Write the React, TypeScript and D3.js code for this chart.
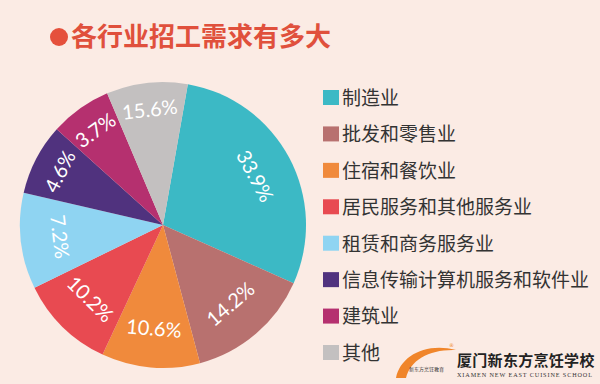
import React from 'react';
import * as d3 from 'd3';

// industries, in clockwise order from the top
const categories = [
  '制造业',
  '批发和零售业',
  '住宿和餐饮业',
  '居民服务和其他服务业',
  '租赁和商务服务业',
  '信息传输计算机服务和软件业',
  '建筑业',
  '其他',
];
// printed share of each industry (%)
const shares = [33.9, 14.2, 10.6, 10.2, 7.2, 4.6, 3.7, 15.6];
// slice size as drawn in the picture (degrees); the original graphic is not to scale
const sliceDegrees = [104, 51, 40, 39, 39, 29, 25, 33];
const colors = ['#3cb9c5', '#b8716f', '#f08a3c', '#e84a51', '#8fd4f2', '#50327e', '#b5306f', '#c3c0c0'];

const title = '各行业招工需求有多大';
const schoolName = '厦门新东方烹饪学校';
const schoolNameEn = 'XIAMEN NEW EAST CUISINE SCHOOL';

const width = 600;
const height = 384;

const App = () => {
  const cx = 163;
  const cy = 225;
  const radius = 143;

  const rows = categories.map((name, i) => ({ name, share: shares[i], deg: sliceDegrees[i], color: colors[i] }));

  const startRad = (10 * Math.PI) / 180;
  const pie = d3.pie<any>()
    .sort(null)
    .value(d => d.deg)
    .startAngle(startRad)
    .endAngle(startRad + Math.PI * 2);
  const arcs = pie(rows);

  const arc = d3.arc<any>().innerRadius(0).outerRadius(radius);
  // narrow slices carry their label a bit further out
  const labelRadius = (d: any) => (d.deg < 36 ? 116 : 104);

  const legendY = d3.scalePoint<string>().domain(categories).range([98, 353]);

  return (
    <svg width={width} height={height} style={{ position: 'absolute', left: 0, top: 0, display: 'block' }}>
      <rect width={width} height={height} fill="#fbebe4" />

      {/* title */}
      <circle cx={59} cy={37} r={9} fill="#e5503c" />
      <text x={71} y={46} fontSize={26} fontWeight="bold" fill="#e0503c"
        fontFamily="'Noto Sans CJK SC', sans-serif">{title}</text>

      {/* pie */}
      <g transform={`translate(${cx},${cy})`}>
        {arcs.map((a, i) => (
          <path key={i} d={arc(a) as string} fill={a.data.color} />
        ))}
        {arcs.map((a, i) => {
          const mid = (a.startAngle + a.endAngle) / 2;
          const r = labelRadius(a.data);
          const x = Math.sin(mid) * r;
          const y = -Math.cos(mid) * r;
          let rot = (mid * 180) / Math.PI;
          rot = ((rot % 360) + 360) % 360;
          if (rot > 90 && rot < 270) rot -= 180;
          else if (rot >= 270) rot -= 360;
          return (
            <text key={i} transform={`translate(${x},${y}) rotate(${rot})`} textAnchor="middle" dy="0.35em"
              fontSize={20} fill="#ffffff" fontFamily="Lato, 'Open Sans', sans-serif" fontWeight={400}>
              {a.data.share.toFixed(1)}%
            </text>
          );
        })}
      </g>

      {/* legend */}
      {rows.map((d, i) => (
        <g key={i} transform={`translate(323,${legendY(d.name)})`}>
          <rect x={0} y={-8} width={16} height={15} fill={d.color} />
          <text x={19} y={0} dy="0.36em" fontSize={19} fill="#333333"
            fontFamily="'Noto Sans CJK SC', sans-serif">{d.name}</text>
        </g>
      ))}

      {/* school logo */}
      <g>
        <path d="M396,378 C400,356 426,342 456,350 C430,349 410,360 406,378 Z" fill="#f0852a" />
        <text x={449} y={347} fontSize={5} fill="#f0852a" fontFamily="DejaVu Sans, sans-serif">®</text>
        <text x={409} y={371} fontSize={5} fill="#333333" fontFamily="'Noto Sans CJK SC', sans-serif">新东方烹饪教育</text>
        <text x={457} y={366} fontSize={15} fontWeight="bold" fill="#222222" letterSpacing={0.3}
          fontFamily="'Noto Sans CJK SC', sans-serif">{schoolName}</text>
        <text x={457} y={377} fontSize={6.2} fill="#333333" textLength={135}
          fontFamily="'Liberation Serif', serif">{schoolNameEn}</text>
      </g>
    </svg>
  );
};

export default App;
